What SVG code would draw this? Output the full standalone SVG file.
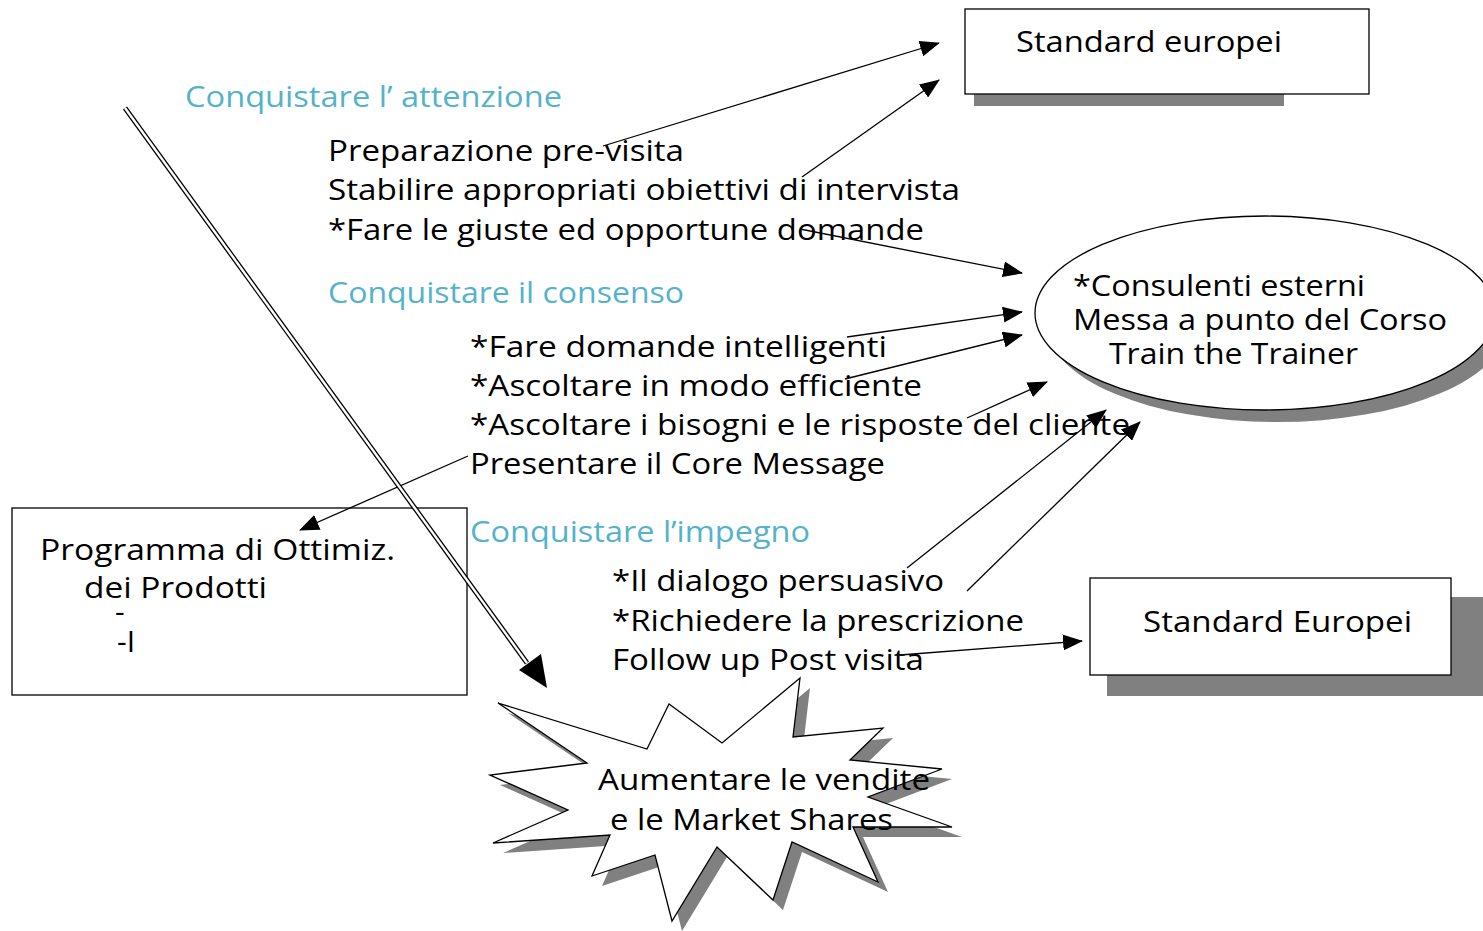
<svg xmlns="http://www.w3.org/2000/svg" width="1483" height="931" viewBox="0 0 1483 931">
<style>
text{font-family:"Open Sans","Noto Sans","Liberation Sans",sans-serif;font-size:30px;fill:#000}
.h{fill:#55B2CB}
.box{fill:#fff;stroke:#000;stroke-width:1.3}
.sh{fill:#808080}
.c{stroke:#000;stroke-width:1.3;fill:none;marker-end:url(#ah)}
</style>
<defs>
<marker id="ah" markerUnits="userSpaceOnUse" markerWidth="20" markerHeight="16" viewBox="0 0 20 16" refX="19" refY="8" orient="auto">
<path d="M0,0 L20,8 L0,16 z" fill="#000"/>
</marker>
</defs>
<rect width="1483" height="931" fill="#fff"/>

<g id="n-standard-europei-top">
<rect class="sh" x="974" y="20" width="310" height="86"/>
<rect class="box" x="965" y="9" width="404" height="85"/>
<text x="1016" y="52" textLength="266" lengthAdjust="spacingAndGlyphs">Standard europei</text>
</g>

<g id="n-consulenti">
<ellipse class="sh" cx="1277" cy="325" rx="230" ry="97"/>
<ellipse cx="1265" cy="313" rx="230" ry="97" fill="#fff" stroke="#000" stroke-width="1.3"/>
<text x="1073" y="296" textLength="292" lengthAdjust="spacingAndGlyphs">*Consulenti esterni</text>
<text x="1073" y="330" textLength="374" lengthAdjust="spacingAndGlyphs">Messa a punto del Corso</text>
<text x="1109" y="364" textLength="249" lengthAdjust="spacingAndGlyphs">Train the Trainer</text>
</g>

<g id="n-programma">
<rect class="box" x="12" y="508" width="455" height="187"/>
<text x="40" y="560" textLength="355" lengthAdjust="spacingAndGlyphs">Programma di Ottimiz.</text>
<text x="84" y="598" textLength="183" lengthAdjust="spacingAndGlyphs">dei Prodotti</text>
<text x="115" y="622">-</text>
<text x="117" y="652">-I</text>
</g>

<g id="n-standard-europei-bottom">
<rect class="sh" x="1107" y="597" width="376" height="99"/>
<rect class="box" x="1090" y="578" width="361" height="97"/>
<text x="1143" y="632" textLength="269" lengthAdjust="spacingAndGlyphs">Standard Europei</text>
</g>

<g id="n-aumentare">
<polygon class="sh" transform="translate(10,10)" points="498,703 647,749 669,704 722,743 800,678 793,737 883,728 850,760 942,769 868,797 952,827 853,827 878,882 792,842 773,900 717,847 672,921 655,855 592,876 610,835 493,843 568,810 490,775 587,763"/>
<polygon fill="#fff" stroke="#000" stroke-width="1.3" points="498,703 647,749 669,704 722,743 800,678 793,737 883,728 850,760 942,769 868,797 952,827 853,827 878,882 792,842 773,900 717,847 672,921 655,855 592,876 610,835 493,843 568,810 490,775 587,763"/>
<text x="598" y="790" textLength="332" lengthAdjust="spacingAndGlyphs">Aumentare le vendite</text>
<text x="610" y="830" textLength="283" lengthAdjust="spacingAndGlyphs">e le Market Shares</text>
</g>

<g id="n-steps">
<text class="h" x="185" y="107" textLength="377" lengthAdjust="spacingAndGlyphs">Conquistare l’ attenzione</text>
<text x="328" y="161" textLength="356" lengthAdjust="spacingAndGlyphs">Preparazione pre-visita</text>
<text x="328" y="200" textLength="632" lengthAdjust="spacingAndGlyphs">Stabilire appropriati obiettivi di intervista</text>
<text x="328" y="240" textLength="596" lengthAdjust="spacingAndGlyphs">*Fare le giuste ed opportune domande</text>
<text class="h" x="328" y="303" textLength="356" lengthAdjust="spacingAndGlyphs">Conquistare il consenso</text>
<text x="470" y="357" textLength="417" lengthAdjust="spacingAndGlyphs">*Fare domande intelligenti</text>
<text x="470" y="396" textLength="452" lengthAdjust="spacingAndGlyphs">*Ascoltare in modo efficiente</text>
<text x="470" y="435" textLength="660" lengthAdjust="spacingAndGlyphs">*Ascoltare i bisogni e le risposte del cliente</text>
<text x="470" y="474" textLength="415" lengthAdjust="spacingAndGlyphs">Presentare il Core Message</text>
<text class="h" x="470" y="542" textLength="340" lengthAdjust="spacingAndGlyphs">Conquistare l’impegno</text>
<text x="612" y="591" textLength="332" lengthAdjust="spacingAndGlyphs">*Il dialogo persuasivo</text>
<text x="612" y="631" textLength="412" lengthAdjust="spacingAndGlyphs">*Richiedere la prescrizione</text>
<text x="612" y="670" textLength="312" lengthAdjust="spacingAndGlyphs">Follow up Post visita</text>
</g>

<g id="connectors">
<line class="c" x1="603" y1="146" x2="939" y2="43"/>
<line class="c" x1="802" y1="177" x2="939" y2="80"/>
<line class="c" x1="800" y1="229" x2="1022" y2="273"/>
<line class="c" x1="847" y1="337" x2="1022" y2="312"/>
<line class="c" x1="845" y1="379" x2="1022" y2="335"/>
<line class="c" x1="967" y1="418" x2="1047" y2="382"/>
<line class="c" x1="907" y1="568" x2="1106" y2="410"/>
<line class="c" x1="967" y1="591" x2="1140" y2="422"/>
<line class="c" x1="468" y1="456" x2="300" y2="530"/>
<line class="c" x1="900" y1="655" x2="1082" y2="641"/>
<line x1="125" y1="108" x2="527" y2="663" stroke="#000" stroke-width="5"/>
<line x1="125" y1="108" x2="527" y2="663" stroke="#fff" stroke-width="2.4"/>
<polygon points="547,688 519,670 541,654" fill="#000"/>
</g>
</svg>
